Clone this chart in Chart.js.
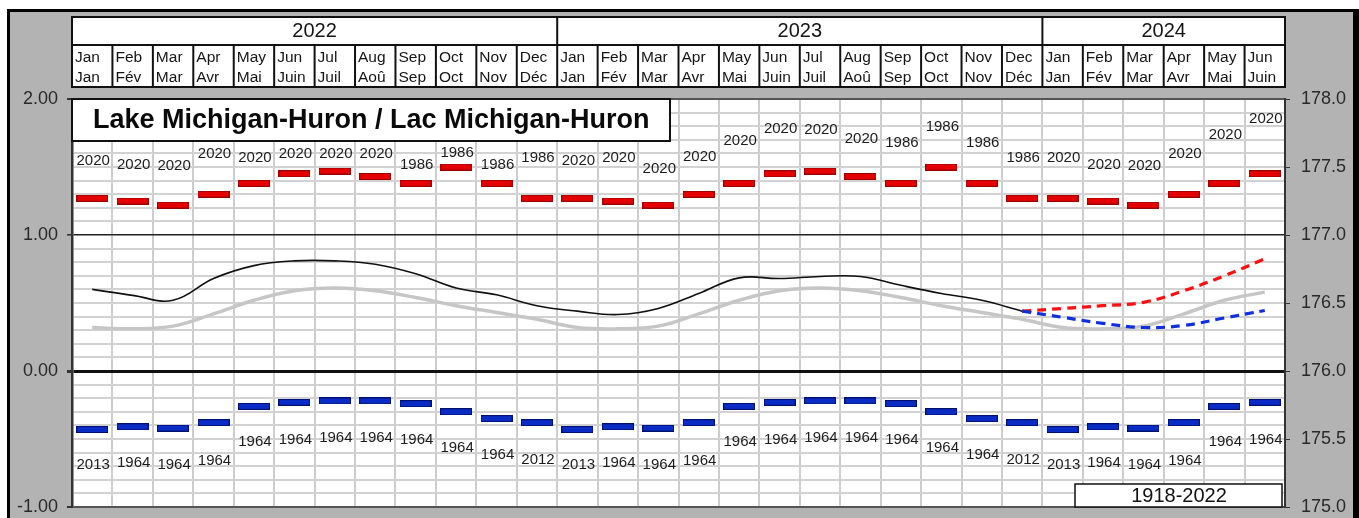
<!DOCTYPE html>
<html>
<head>
<meta charset="utf-8">
<script src="https://cdn.jsdelivr.net/npm/chart.js@4.4.1/dist/chart.umd.min.js"></script>
<style>
  html, body { margin: 0; padding: 0; background: #fff; }
  canvas { display: block; }
</style>
</head>
<body>
<canvas id="c" width="1359" height="518"></canvas>
<script>
// ---------------- DATA ----------------
const categories = [
  '2022-01','2022-02','2022-03','2022-04','2022-05','2022-06','2022-07','2022-08','2022-09','2022-10','2022-11','2022-12',
  '2023-01','2023-02','2023-03','2023-04','2023-05','2023-06','2023-07','2023-08','2023-09','2023-10','2023-11','2023-12',
  '2024-01','2024-02','2024-03','2024-04','2024-05','2024-06'
];
const monthEn = ['Jan','Feb','Mar','Apr','May','Jun','Jul','Aug','Sep','Oct','Nov','Dec'];
const monthFr = ['Jan','Fév','Mar','Avr','Mai','Juin','Juil','Aoû','Sep','Oct','Nov','Déc'];
const yearNames = ['2022','2023','2024'];
const yearMonthCounts = [12, 12, 6];

// record highs (m above 176.0 m datum)
const recordHigh = [
  1.27,1.25,1.22,1.30,1.38,1.45,1.47,1.43,1.38,1.50,1.38,1.27,
  1.27,1.25,1.22,1.30,1.38,1.45,1.47,1.43,1.38,1.50,1.38,1.27,
  1.27,1.25,1.22,1.30,1.38,1.45
];
const recordHighYear = [
  '2020','2020','2020','2020','2020','2020','2020','2020','1986','1986','1986','1986',
  '2020','2020','2020','2020','2020','2020','2020','2020','1986','1986','1986','1986',
  '2020','2020','2020','2020','2020','2020'
];
// level at which each record-high year label sits (axis units)
const highLabelLevel = [
  1.545,1.519,1.505,1.600,1.564,1.600,1.600,1.600,1.519,1.607,1.519,1.564,
  1.545,1.564,1.490,1.578,1.689,1.777,1.770,1.704,1.674,1.792,1.674,1.564,
  1.564,1.519,1.505,1.600,1.733,1.851
];

// record lows
const recordLow = [
  -0.43,-0.41,-0.42,-0.38,-0.26,-0.23,-0.22,-0.22,-0.24,-0.30,-0.35,-0.38,
  -0.43,-0.41,-0.42,-0.38,-0.26,-0.23,-0.22,-0.22,-0.24,-0.30,-0.35,-0.38,
  -0.43,-0.41,-0.42,-0.38,-0.26,-0.23
];
const recordLowYear = [
  '2013','1964','1964','1964','1964','1964','1964','1964','1964','1964','1964','2012',
  '2013','1964','1964','1964','1964','1964','1964','1964','1964','1964','1964','2012',
  '2013','1964','1964','1964','1964','1964'
];
const lowLabelLevel = [
  -0.688,-0.673,-0.688,-0.659,-0.519,-0.504,-0.490,-0.490,-0.504,-0.563,-0.614,-0.651,
  -0.688,-0.673,-0.688,-0.659,-0.519,-0.504,-0.490,-0.490,-0.504,-0.563,-0.614,-0.651,
  -0.688,-0.673,-0.688,-0.659,-0.519,-0.504
];

// observed monthly mean levels
const observed = [
  0.60,0.556,0.52,0.68,0.775,0.81,0.81,0.785,0.715,0.61,0.56,0.48,
  0.44,0.415,0.46,0.57,0.685,0.68,0.695,0.695,0.63,0.57,0.52,0.44,
  null,null,null,null,null,null
];
// long-term average 1918-2022
const average = [
  0.32,0.31,0.33,0.42,0.52,0.59,0.61,0.59,0.54,0.48,0.43,0.38,
  0.32,0.31,0.33,0.42,0.52,0.59,0.61,0.59,0.54,0.48,0.43,0.38,
  0.32,0.31,0.33,0.42,0.52,0.58
];
// forecast envelope (Dec 2023 - Jun 2024)
const forecastHigh = [
  null,null,null,null,null,null,null,null,null,null,null,null,
  null,null,null,null,null,null,null,null,null,null,null,0.44,
  0.46,0.48,0.505,0.59,0.70,0.825
];
const forecastLow = [
  null,null,null,null,null,null,null,null,null,null,null,null,
  null,null,null,null,null,null,null,null,null,null,null,0.44,
  0.395,0.35,0.32,0.335,0.39,0.445
];
const leftTicksMin = -1, leftTicksMax = 2;
const datumOffset = 176.0;
const titleText = 'Lake Michigan-Huron / Lac Michigan-Huron';
const periodText = '1918-2022';

// ---------------- RENDER ----------------
const FONT = '"Liberation Sans", Arial, Helvetica, sans-serif';

function makeBar(fill, stroke) {
  const c = document.createElement('canvas');
  c.width = 32; c.height = 7;
  const g = c.getContext('2d');
  g.fillStyle = stroke; g.fillRect(0, 0, 32, 7);
  g.fillStyle = fill; g.fillRect(1, 1, 30, 5);
  return c;
}
const redBar = makeBar('#e40000', '#9a0000');
const blueBar = makeBar('#0a2cc4', '#001070');

function isWhole(v) { return Math.abs(v - Math.round(v)) < 1e-6; }

const framePlugin = {
  id: 'frame',
  beforeDraw(chart) {
    const { ctx, chartArea: a, scales: { x } } = chart;
    const W = chart.width, H = chart.height;
    ctx.save();
    ctx.fillStyle = '#ffffff'; ctx.fillRect(0, 0, W, H);
    ctx.fillStyle = '#000000'; ctx.fillRect(7, 9, W - 7, H - 9);
    ctx.fillStyle = '#b3b3b3'; ctx.fillRect(10, 12, W - 16, H - 12);
    ctx.fillStyle = '#ffffff'; ctx.fillRect(a.left, a.top, a.width, a.height);

    // header table
    const colW = x.getPixelForValue(1) - x.getPixelForValue(0);
    const y0 = 17, y1 = 45, y2 = 87;
    ctx.fillStyle = '#ffffff';
    ctx.fillRect(a.left, y0, a.right - a.left, y2 - y0);
    ctx.strokeStyle = '#111'; ctx.lineWidth = 2;
    ctx.strokeRect(a.left, y0, a.right - a.left, y2 - y0);
    ctx.beginPath(); ctx.moveTo(a.left, y1); ctx.lineTo(a.right, y1); ctx.stroke();
    ctx.fillStyle = '#151515';
    ctx.textBaseline = 'middle';
    for (let i = 0; i < categories.length; i++) {
      const left = x.getPixelForValue(i) - colW / 2;
      if (i > 0) {
        ctx.beginPath(); ctx.moveTo(left, y1); ctx.lineTo(left, y2); ctx.stroke();
      }
      ctx.font = '15.5px ' + FONT;
      ctx.textAlign = 'left';
      ctx.fillText(monthEn[i % 12], left + 3, 57.5);
      ctx.fillText(monthFr[i % 12], left + 3, 77.5);
    }
    let start = 0;
    for (let k = 0; k < yearNames.length; k++) {
      const l = x.getPixelForValue(start) - colW / 2;
      const r = x.getPixelForValue(start + yearMonthCounts[k] - 1) + colW / 2;
      if (start > 0) {
        ctx.beginPath(); ctx.moveTo(l, y0); ctx.lineTo(l, y1); ctx.stroke();
      }
      ctx.font = '20px ' + FONT;
      ctx.textAlign = 'center';
      ctx.fillText(yearNames[k], (l + r) / 2, 31.5);
      start += yearMonthCounts[k];
    }
    ctx.restore();
  },
  afterDatasetsDraw(chart) {
    const { ctx, scales: { x, y } } = chart;
    ctx.save();
    ctx.font = '15px ' + FONT;
    ctx.fillStyle = '#1c1c1c';
    ctx.textAlign = 'center';
    ctx.textBaseline = 'middle';
    for (let i = 0; i < categories.length; i++) {
      const px = x.getPixelForValue(i) + 1;
      ctx.fillText(recordHighYear[i], px, y.getPixelForValue(highLabelLevel[i]));
      ctx.fillText(recordLowYear[i], px, y.getPixelForValue(lowLabelLevel[i]));
    }
    ctx.restore();
  },
  afterDraw(chart) {
    const { ctx, chartArea: a } = chart;
    ctx.save();
    // title box
    ctx.fillStyle = '#ffffff';
    ctx.fillRect(a.left, a.top, 598, 42);
    ctx.strokeStyle = '#111'; ctx.lineWidth = 2;
    ctx.strokeRect(a.left, a.top, 598, 42);
    ctx.fillStyle = '#0a0a0a';
    ctx.font = 'bold 27px ' + FONT;
    ctx.textAlign = 'left'; ctx.textBaseline = 'middle';
    ctx.fillText(titleText, a.left + 21, a.top + 22);
    // period box
    const bx = a.right - 210, by = a.bottom - 23;
    ctx.fillStyle = '#ffffff';
    ctx.fillRect(bx, by, 207, 23);
    ctx.lineWidth = 1.5;
    ctx.strokeRect(bx, by, 207, 23);
    ctx.fillStyle = '#111';
    ctx.font = '20px ' + FONT;
    ctx.textAlign = 'center';
    ctx.fillText(periodText, bx + 104, by + 12.5);
    ctx.restore();
  }
};

new Chart(document.getElementById('c'), {
  type: 'line',
  data: {
    labels: categories,
    datasets: [
      { label: 'Average', data: average, borderColor: '#c6c6c6', borderWidth: 3.5, pointRadius: 0, tension: 0.4, order: 5 },
      { label: 'Observed', data: observed, borderColor: '#111111', borderWidth: 1.6, pointRadius: 0, tension: 0.4, order: 4 },
      { label: 'Forecast high', data: forecastHigh, borderColor: '#ff1010', borderWidth: 3.2, borderDash: [9, 6], pointRadius: 0, tension: 0.4, order: 3 },
      { label: 'Forecast low', data: forecastLow, borderColor: '#1030e0', borderWidth: 3.2, borderDash: [9, 6], pointRadius: 0, tension: 0.4, order: 2 },
      { label: 'Record high', data: recordHigh, showLine: false, pointStyle: redBar, pointRadius: 3, order: 1 },
      { label: 'Record low', data: recordLow, showLine: false, pointStyle: blueBar, pointRadius: 3, order: 1 }
    ]
  },
  options: {
    responsive: false,
    devicePixelRatio: 1,
    animation: false,
    events: [],
    layout: { padding: { top: 99, bottom: 11, left: 0, right: 0 } },
    plugins: { legend: { display: false }, tooltip: { enabled: false }, title: { display: false } },
    scales: {
      x: {
        type: 'category',
        offset: true,
        ticks: { display: false },
        border: { display: false },
        grid: { offset: true, color: '#cdcdcd', lineWidth: 2, drawTicks: false },
        afterFit(s) { s.height = 0; }
      },
      y: {
        position: 'left',
        min: leftTicksMin, max: leftTicksMax,
        ticks: {
          stepSize: 0.1, autoSkip: false, padding: 9,
          color: '#2a2a2a',
          font: { family: FONT, size: 18 },
          callback: v => isWhole(v) ? v.toFixed(2) : ''
        },
        border: { display: true, color: '#333', width: 2.5 },
        grid: {
          tickLength: 5,
          tickColor: c => isWhole(c.tick.value) ? '#333' : 'rgba(0,0,0,0)',
          color: c => {
            const v = c.tick.value;
            if (Math.abs(v) < 1e-6) return '#111';
            if (Math.abs(v - 1) < 1e-6) return '#222';
            if (Math.abs(v - 2) < 1e-6 || Math.abs(v + 1) < 1e-6) return '#555';
            return '#d2d2d2';
          },
          lineWidth: c => {
            const v = c.tick.value;
            if (Math.abs(v) < 1e-6) return 3;
            if (Math.abs(v - 1) < 1e-6) return 1.6;
            return 2;
          }
        },
        afterFit(s) { s.width = 72; s.paddingTop = 0; s.paddingBottom = 0; }
      },
      y2: {
        position: 'right',
        min: leftTicksMin + datumOffset, max: leftTicksMax + datumOffset,
        ticks: {
          stepSize: 0.5, autoSkip: false, padding: 11,
          color: '#2a2a2a',
          font: { family: FONT, size: 18 },
          callback: v => v.toFixed(1)
        },
        border: { display: true, color: '#333', width: 2 },
        grid: { drawOnChartArea: false, tickLength: 5, tickColor: '#333' },
        afterFit(s) { s.width = 74; s.paddingTop = 0; s.paddingBottom = 0; }
      }
    }
  },
  plugins: [framePlugin]
});
</script>
</body>
</html>
